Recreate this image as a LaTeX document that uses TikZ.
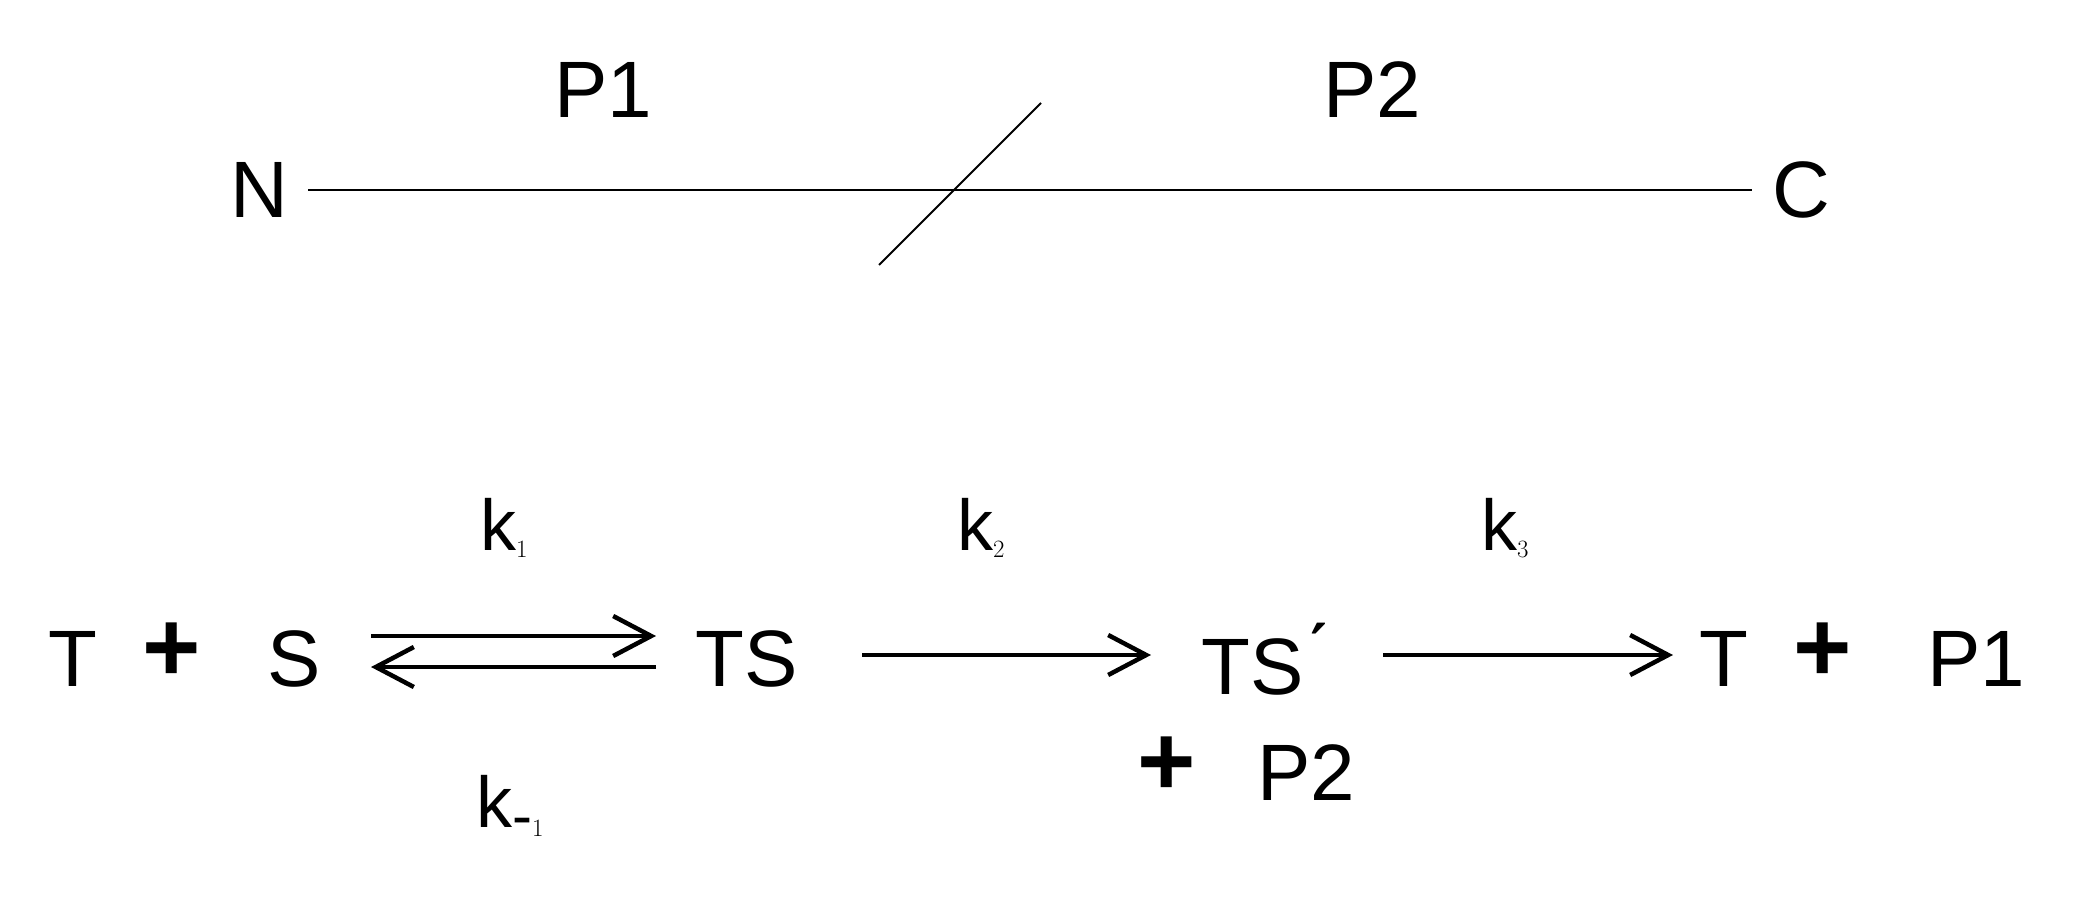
\documentclass[tikz,border=0pt]{standalone}
\usepackage{fontspec}
\setmainfont{Liberation Sans}
\usetikzlibrary{arrows.meta}
\begin{document}
\begin{tikzpicture}[x=1pt,y=-1pt,
  lbl/.style={font=\fontsize{80}{90}\selectfont,inner sep=0pt},
  klbl/.style={font=\fontsize{72}{80}\selectfont,inner sep=0pt},
  pl/.style={font=\fontsize{100}{100}\selectfont\bfseries,inner sep=0pt},
  rx/.style={line width=4.5pt,-{Straight Barb[length=38pt,width=40pt,line width=4.5pt]}}]
\useasboundingbox (0,0) rectangle (2079,898);
\node[lbl] (N) at (259,190) {N};
\node[lbl] (C) at (1801,190) {C};
\node[lbl] (P1t) at (603,90) {P1};
\node[lbl] (P2t) at (1372,90) {P2};
\draw[line width=2pt] (N.east)+(20,0) -- ([xshift=-20pt]C.west);
\coordinate (s1) at (879,265); \coordinate (s2) at (1041,103);
\draw[line width=2pt] (s1) -- (s2);
\node[lbl] (T1) at (73,659) {T};
\node[pl] (p1) at (172,652) {+};
\node[lbl] (S) at (294,659) {S};
\node[lbl] (TS) at (747,659) {TS};
\node[lbl] (TSp) at (1264,659) {TS\'{}};
\node[pl] (p2) at (1167,766) {+};
\node[lbl] (P2) at (1306,773) {P2};
\node[lbl] (T2) at (1724,659) {T};
\node[pl] (p3) at (1823,652) {+};
\node[lbl] (P1) at (1976,659) {P1};
\coordinate (a1) at (371,636); \coordinate (a2) at (656,636);
\coordinate (b1) at (371,667); \coordinate (b2) at (656,667);
\draw[rx] (a1) -- (a2);
\draw[rx] (b2) -- (b1);
\coordinate (c1) at (862,655); \coordinate (c2) at (1151,655);
\draw[rx] (c1) -- (c2);
\coordinate (d1) at (1383,655); \coordinate (d2) at (1673,655);
\draw[rx] (d1) -- (d2);
\node[klbl] (k1) at (504,528) {k$_{\fontsize{60}{60}\selectfont 1}$};
\node[klbl] (k2) at (981,528) {k$_{\fontsize{60}{60}\selectfont 2}$};
\node[klbl] (k3) at (1505,528) {k$_{\fontsize{60}{60}\selectfont 3}$};
\node[klbl] (km1) at (510,806) {k$_{\fontsize{60}{60}\selectfont \textnormal{-}1}$};
\end{tikzpicture}
\end{document}
